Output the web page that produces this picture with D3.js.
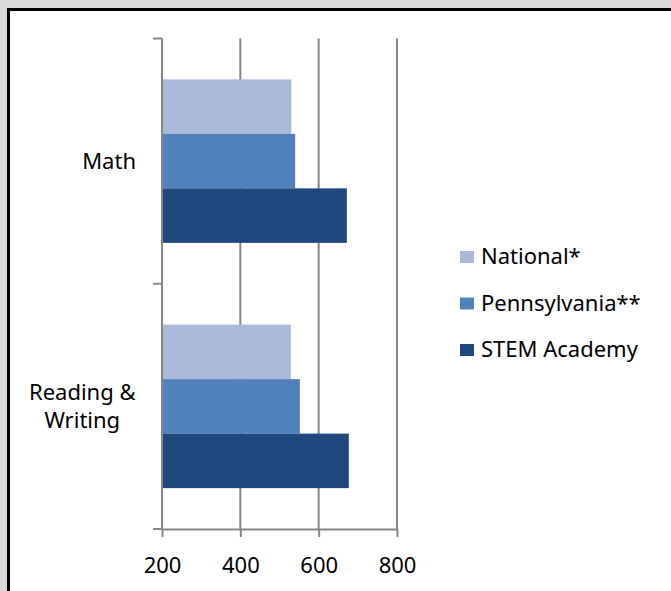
<!DOCTYPE html>
<html><head><meta charset="utf-8">
<script src="https://cdn.jsdelivr.net/npm/d3@7"></script>
<style>html,body{margin:0;padding:0;background:#d9d9d9;}svg{display:block;}</style>
</head><body>
<svg id="c" width="671" height="591"></svg>
<script>
const categories = ["Math", "Reading & Writing"];
const categoryLines = [["Math"], ["Reading &", "Writing"]];
const seriesNames = ["National*", "Pennsylvania**", "STEM Academy"];
const seriesColors = ["#aab9d7", "#4f81bd", "#1f497d"];
const national = [530, 529];
const pennsylvania = [540, 552];
const stemAcademy = [672, 677];
const tickValues = [200, 400, 600, 800];

const values = [national, pennsylvania, stemAcademy];
const svg = d3.select("#c");
const font = "'Noto Sans', 'Open Sans', sans-serif";
const fs = 22;

// frame
svg.append("rect").attr("x", 7).attr("y", 8).attr("width", 700).attr("height", 620).attr("fill", "#000");
svg.append("rect").attr("x", 10).attr("y", 11).attr("width", 700).attr("height", 620).attr("fill", "#fff");

const x = d3.scaleLinear().domain([200, 800]).range([162, 397]);
const y = d3.scaleBand().domain(categories).range([38.5, 529]).paddingInner(0).paddingOuter(0);
const inner = d3.scaleBand().domain(seriesNames).range([y.bandwidth() / 6, y.bandwidth() * 5 / 6]);
const gridColor = "#878787";

// gridlines
svg.append("g").selectAll("line").data(tickValues.slice(1)).join("line")
  .attr("x1", d => x(d)).attr("x2", d => x(d))
  .attr("y1", 38.5).attr("y2", 529)
  .attr("stroke", gridColor).attr("stroke-width", 2);

// bars
const rows = [];
categories.forEach((c, i) => seriesNames.forEach((s, j) => rows.push({c, s, j, v: values[j][i]})));
svg.append("g").selectAll("rect").data(rows).join("rect")
  .attr("x", x(200) + 1)
  .attr("y", d => y(d.c) + inner(d.s))
  .attr("width", d => x(d.v) - x(200) - 1)
  .attr("height", inner.bandwidth())
  .attr("fill", d => seriesColors[d.j]);

// x axis
const xa = svg.append("g").attr("transform", "translate(0,529)")
  .call(d3.axisBottom(x).tickValues(tickValues).tickSize(8).tickSizeOuter(0).tickFormat(d3.format("d")));
xa.select(".domain").attr("stroke", gridColor).attr("stroke-width", 2);
xa.selectAll(".tick line").attr("stroke", gridColor).attr("stroke-width", 2);
xa.selectAll(".tick text").attr("font-family", font).attr("font-size", fs).attr("fill", "#000").attr("dy", "0").attr("y", 44);

// y axis
const boundaries = [38.5, y("Reading & Writing"), 529];
svg.append("line").attr("x1", 162).attr("x2", 162).attr("y1", 38.5).attr("y2", 529)
  .attr("stroke", gridColor).attr("stroke-width", 2);
svg.append("g").selectAll("line").data(boundaries).join("line")
  .attr("x1", 153).attr("x2", 162).attr("y1", d => d).attr("y2", d => d)
  .attr("stroke", gridColor).attr("stroke-width", 2);

// category labels
const lh = 28;
categories.forEach((c, i) => {
  const lines = categoryLines[i];
  const cy = y(c) + y.bandwidth() / 2;
  const g = svg.append("text").attr("font-family", font).attr("font-size", fs).attr("fill", "#000")
    .attr("text-anchor", "middle");
  const t = g.selectAll("tspan").data(lines).join("tspan")
    .attr("x", 0)
    .attr("y", (d, k) => cy + (k - (lines.length - 1) / 2) * lh + 8)
    .text(d => d);
  const w = g.node().getBBox().width;
  t.attr("x", 136 - w / 2);
});

// legend
const lg = svg.append("g");
seriesNames.forEach((s, j) => {
  const yy = 251 + j * 46.5;
  lg.append("rect").attr("x", 460).attr("y", yy).attr("width", 14).attr("height", 12).attr("fill", seriesColors[j]);
  lg.append("text").attr("x", 481).attr("y", yy + 13).attr("font-family", font).attr("font-size", fs)
    .attr("fill", "#000").text(s);
});
</script>
</body></html>
